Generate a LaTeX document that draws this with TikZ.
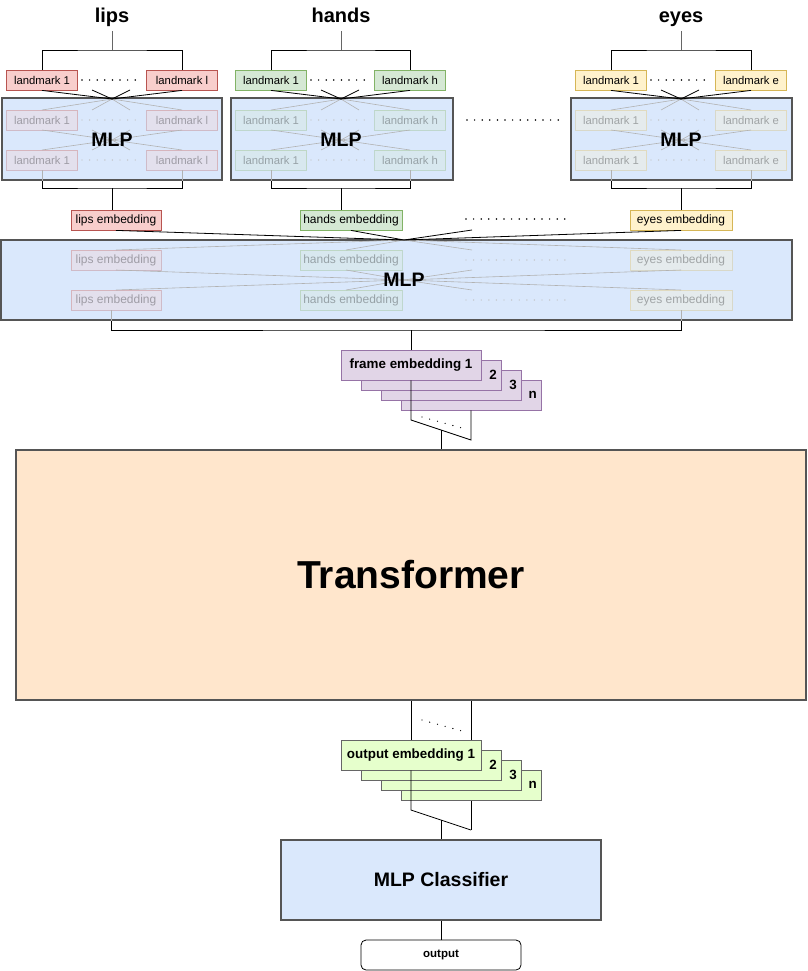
\documentclass[tikz,border=0pt]{standalone}
\usepackage{fontspec}
\setmainfont{Liberation Sans}
\usetikzlibrary{calc}
\definecolor{blueF}{HTML}{DAE8FC}
\definecolor{boxD}{HTML}{555555}
\definecolor{redF}{HTML}{F8CECC}
\definecolor{redD}{HTML}{B85450}
\definecolor{greenF}{HTML}{D5E8D4}
\definecolor{greenD}{HTML}{82B366}
\definecolor{yelF}{HTML}{FFF2CC}
\definecolor{yelD}{HTML}{D6B656}
\definecolor{purF}{HTML}{E1D5E7}
\definecolor{purD}{HTML}{9673A6}
\definecolor{orF}{HTML}{FFE6CC}
\definecolor{limeF}{HTML}{E6FFCC}
\newcommand\fsz[1]{\fontsize{#1}{#1}\selectfont}
\tikzset{
  conn/.style={draw=black, line width=0.8pt},
  titleline/.style={draw=black!60, line width=1pt},
  fline/.style={draw=black!30, line width=0.6pt},
  dotsline/.style={draw=black, line width=1.7pt, line cap=round, dash pattern=on 0pt off 7.6pt},
  fdots/.style={draw=black!25, line width=1.4pt, line cap=round, dash pattern=on 0pt off 7.6pt},
  faded/.style={opacity=0.3},
  redbox/.style={fill=redF, draw=redD},
  greenbox/.style={fill=greenF, draw=greenD},
  yelbox/.style={fill=yelF, draw=yelD},
  lm/.style={minimum width=71pt, minimum height=20pt, inner sep=0pt, line width=0.8pt, font=\fsz{11.3}},
  emb/.style={minimum width=102pt, minimum height=20pt, inner sep=0pt, line width=0.8pt, font=\fsz{12}},
  titletext/.style={inner sep=1pt, anchor=base, font=\bfseries\fsz{20}},
  mlpbox/.style={fill=blueF, draw=boxD, line width=2pt, minimum height=82pt, inner sep=0pt},
  mlplabel/.style={inner sep=0pt, font=\bfseries\fsz{19.5}},
  card/.style={minimum width=140pt, minimum height=30pt, inner sep=0pt, line width=0.8pt, font=\bfseries\fsz{13.4}},
  fcard/.style={card, fill=purF, draw=purD},
  ocard/.style={card, fill=limeF, draw=black!60},
  cardnum/.style={anchor=east, inner sep=4.5pt, font=\bfseries\fsz{13.4}},
}
% #1 id, #2 title, #3 cx, #4 left box x, #5 right box x, #6 colour style, #7 letter, #8 mlp centre x, #9 mlp width
\newcommand\lmgroup[9]{%
  \node[titletext] (#1t) at (#3,23) {#2};
  \coordinate (#1tl) at (#3,31);
  \coordinate (#1top) at (#3,50);
  \node[lm,#6] (#1a) at (#4,80) {landmark 1};
  \node[lm,#6] (#1b) at (#5,80) {landmark #7};
  \draw[titleline] (#1tl) -- (#1top);
  \draw[conn] (#1a.north) |- (#1top) -| (#1b.north);
  \draw[dotsline] (#4+40,80) -- (#5-40,80);
  \node[mlpbox, minimum width=#9] (#1m) at (#8,139) {};
  \node[lm,#6,faded] (#1ra) at (#4,120) {landmark 1};
  \node[lm,#6,faded] (#1rb) at (#5,120) {landmark #7};
  \node[lm,#6,faded] (#1sa) at (#4,160) {landmark 1};
  \node[lm,#6,faded] (#1sb) at (#5,160) {landmark #7};
  \draw[fdots] (#4+40,120) -- (#5-40,120);
  \draw[fdots] (#4+40,160) -- (#5-40,160);
  \coordinate (#1c) at (#3,99);
  \coordinate (#1mc) at (#3,140);
  \foreach \xx in {#4,#3-20,#3+18,#5} {
    \draw[fline] (#1c) -- (\xx,110);
    \draw[fline] (\xx,130) -- (#1mc) -- (\xx,150);
  }
  \coordinate (#1bot) at (#3,188);
  \draw[fline] (#1sa.south) -- (#1sa |- #1m.south);
  \draw[fline] (#1sb.south) -- (#1sb |- #1m.south);
  \draw[conn] (#1sa |- #1m.south) |- (#1bot) -| (#1sb |- #1m.south);
  \draw[conn] (#1a.south) -- (#1c) -- (#1b.south);
  \draw[conn] (#3-20,90) -- (#1c) -- (#3+18,90);
  \node[mlplabel] at (#1mc) {MLP};
}
\begin{document}
\begin{tikzpicture}[x=1pt,y=-1pt]
\useasboundingbox (0,0) rectangle (807,971);

% ---------- landmark groups ----------
\lmgroup{L}{lips}{112}{42}{182}{redbox}{l}{112}{220pt}
\lmgroup{H}{hands}{341}{271}{410}{greenbox}{h}{342}{222pt}
\lmgroup{E}{eyes}{681}{611}{751}{yelbox}{e}{681.5}{221pt}
\draw[dotsline] (467,120) -- (560,120);

% ---------- embeddings ----------
\node[emb,redbox,minimum width=90pt] (le) at (116,220) {lips embedding};
\node[emb,greenbox] (he) at (351,220) {hands embedding};
\node[emb,yelbox] (ee) at (681,220) {eyes embedding};
\draw[dotsline] (466,219) -- (566,219);
\draw[conn] (Lbot) -- (Lbot |- le.north);
\draw[conn] (Hbot) -- (Hbot |- he.north);
\draw[conn] (Ebot) -- (Ebot |- ee.north);

% ---------- big MLP ----------
\node[mlpbox, minimum width=791pt, minimum height=80pt] (bm) at (396.5,280) {};
\node[emb,redbox,minimum width=90pt,faded] (le1) at (116,260) {lips embedding};
\node[emb,greenbox,faded] (he1) at (351,260) {hands embedding};
\node[emb,yelbox,faded] (ee1) at (681,260) {eyes embedding};
\node[emb,redbox,minimum width=90pt,faded] (le2) at (116,300) {lips embedding};
\node[emb,greenbox,faded] (he2) at (351,300) {hands embedding};
\node[emb,yelbox,faded] (ee2) at (681,300) {eyes embedding};
\draw[fdots] (466,260) -- (566,260);
\draw[fdots] (466,300) -- (566,300);
\coordinate (bc) at (404,240);
\coordinate (bmc) at (404,280);
\foreach \xx in {116,346,472,681} {
  \draw[fline] (bc) -- (\xx,250);
  \draw[fline] (\xx,270) -- (bmc) -- (\xx,290);
}
\draw[conn] (le.south) -- (bc) -- (he.south);
\draw[conn] (472,230) -- (bc) -- (ee.south);
\node[mlplabel] at (bmc) {MLP};
\coordinate (fb) at (411,330);
\coordinate (lbr) at ($(le2.south)+(-5,0)$);
\draw[fline] (lbr) -- (lbr |- bm.south);
\draw[fline] (ee2.south) -- (ee2 |- bm.south);
\draw[conn] (lbr |- bm.south) |- (fb) -| (ee2 |- bm.south);

% ---------- frame embeddings ----------
\node[fcard] (fn) at (471,395) {};
\node[cardnum] at (fn.east) {n};
\node[fcard] (f3) at (451,385) {};
\node[cardnum] at (f3.east) {3};
\node[fcard] (f2) at (431,375) {};
\node[cardnum] at (f2.east) {2};
\node[fcard] (f1) at (411,365) {frame embedding 1};
\draw[conn] (fb) -- (f1.north);
\coordinate (fj1) at (411,420);
\coordinate (fj2) at (471,440);
\draw[conn] (f1.south) -- (fj1) -- (fj2) -- (fn.south);
\draw[dotsline, line width=1.3pt, dash pattern=on 0pt off 8pt] (422,417) -- (462,428);

% ---------- transformer ----------
\node[fill=orF, draw=boxD, line width=2.2pt, minimum width=790pt, minimum height=250pt, inner sep=0pt,
      font=\bfseries\fsz{39}] (tr) at (411,575) {Transformer};
\draw[conn] ($(fj1)!0.5!(fj2)$) -- (tr.north -| 441,0);

% ---------- output embeddings ----------
\coordinate (oj1) at (411,810);
\coordinate (oj2) at (471,830);
\draw[conn] (tr.south -| oj2) -- (oj2);
\node[ocard] (on) at (471,785) {};
\node[cardnum] at (on.east) {n};
\node[ocard] (o3) at (451,775) {};
\node[cardnum] at (o3.east) {3};
\node[ocard] (o2) at (431,765) {};
\node[cardnum] at (o2.east) {2};
\node[ocard] (o1) at (411,755) {output embedding 1};
\draw[conn] (tr.south -| o1) -- (o1.north);
\draw[conn] (o1.south) -- (oj1) -- (oj2);
\draw[dotsline, line width=1.3pt, dash pattern=on 0pt off 8pt] (422,720) -- (462,731);

% ---------- classifier ----------
\node[mlpbox, minimum width=320pt, minimum height=80pt, font=\bfseries\fsz{19.5}] (cls) at (441,880) {MLP Classifier};
\draw[conn] ($(oj1)!0.5!(oj2)$) -- (cls.north);
\node[draw=black, line width=0.8pt, rounded corners=5pt, minimum width=160pt, minimum height=30pt,
      inner sep=0pt, font=\bfseries\fsz{11.5}] (out) at (441,955) {output};
\draw[conn] (cls.south) -- (out.north);
\end{tikzpicture}
\end{document}
